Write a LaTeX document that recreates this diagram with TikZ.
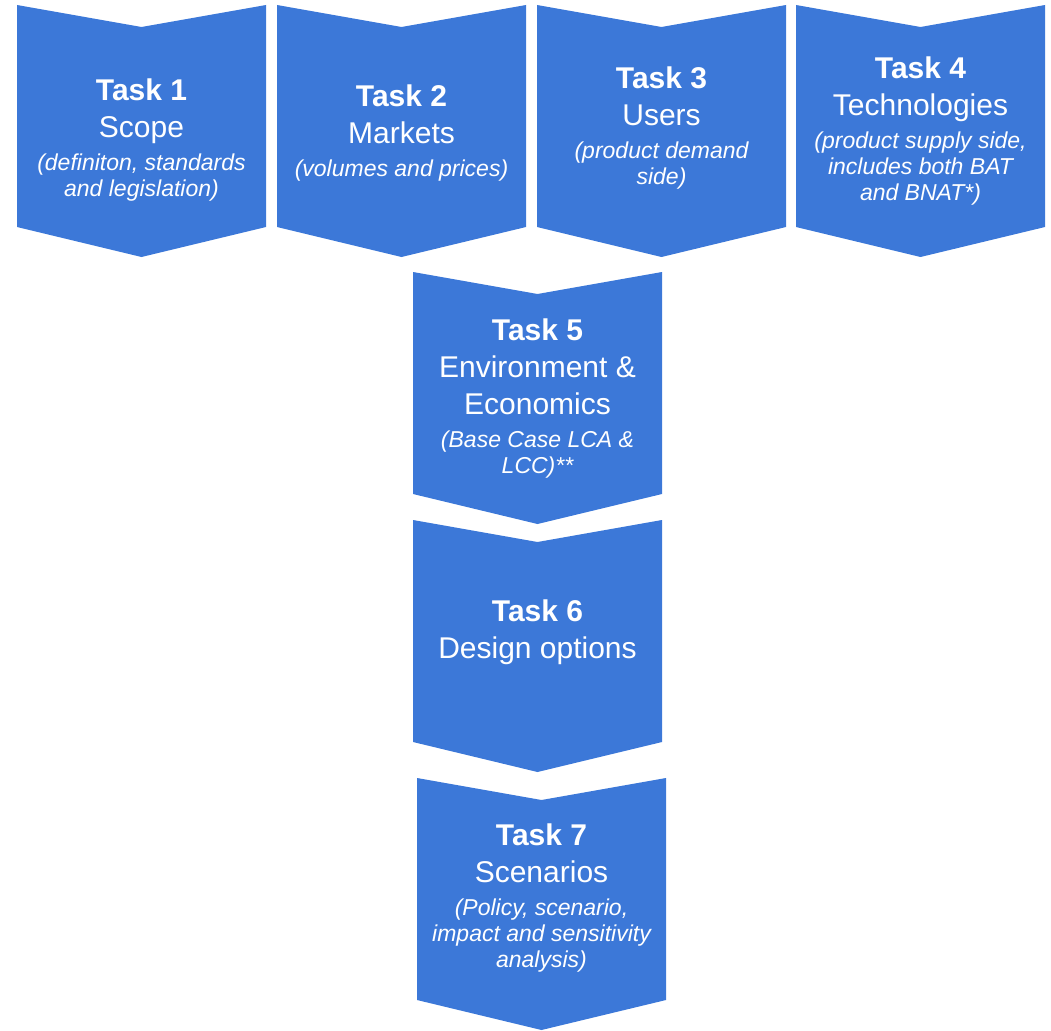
\documentclass[tikz,border=0pt]{standalone}
\usepackage{fontspec}
\setmainfont{Liberation Sans}
\usetikzlibrary{positioning}
\definecolor{taskblue}{HTML}{3C78D8}
\newcommand{\tstrut}{\rule{0pt}{22pt}}
\newcommand{\bstrut}{\rule[-7pt]{0pt}{7pt}}
\newcommand{\nstrut}{\rule{0pt}{18pt}}
% chevron: left x, top y (y counted downwards)
\newcommand{\chevron}[2]{\fill[taskblue] (#1,-#2) -- ++(124.5,-22) -- ++(124.5,22) -- ++(0,-222) -- ++(-124.5,-30) -- ++(-124.5,30) -- cycle;}

\begin{document}
\begin{tikzpicture}[x=1pt,y=1pt,
  title/.style = {align=center, text=white, inner sep=0pt, anchor=north, font=\fontsize{30}{37}\selectfont},
  note/.style = {align=center, text=white, inner sep=0pt, font=\fontsize{23}{26}\selectfont\itshape},
  node distance={8pt}]
\useasboundingbox (0,0) rectangle (1051,-1030);
\chevron{17}{5}
\chevron{277}{5}
\chevron{537}{5}
\chevron{796}{5}
\chevron{413}{272}
\chevron{413}{520}
\chevron{417}{778}
\node[title] (t1) at (141.5,-78) {\tstrut\textbf{Task 1}\\Scope\bstrut};
\node[note, below=of t1] (n1) {\nstrut(definiton, standards\\and legislation)};
\node[title] (t2) at (401.5,-84) {\tstrut\textbf{Task 2}\\Markets\bstrut};
\node[note, below=of t2] (n2) {\nstrut(volumes and prices)};
\node[title] (t3) at (661.5,-66) {\tstrut\textbf{Task 3}\\Users\bstrut};
\node[note, below=of t3] (n3) {\nstrut(product demand\\side)};
\node[title] (t4) at (920.5,-56) {\tstrut\textbf{Task 4}\\Technologies\bstrut};
\node[note, below=of t4] (n4) {\nstrut(product supply side,\\includes both BAT\\and BNAT*)};
\node[title] (t5) at (537.5,-318) {\tstrut\textbf{Task 5}\\Environment \&\\Economics\bstrut};
\node[note, below=of t5] (n5) {\nstrut(Base Case LCA \&\\LCC)**};
\node[title] (t6) at (537.5,-599) {\tstrut\textbf{Task 6}\\Design options\bstrut};
\node[title] (t7) at (541.5,-823) {\tstrut\textbf{Task 7}\\Scenarios\bstrut};
\node[note, below=of t7] (n7) {\nstrut(Policy, scenario,\\impact and sensitivity\\analysis)};
\end{tikzpicture}
\end{document}
